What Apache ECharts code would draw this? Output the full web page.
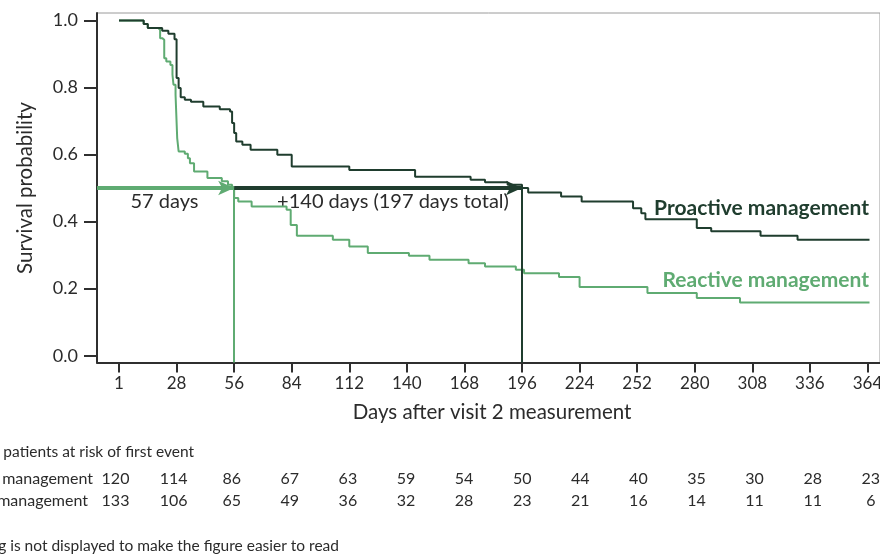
<!DOCTYPE html>
<html>
<head>
<meta charset="utf-8">
<title>Time to first event</title>
<script src="https://cdn.jsdelivr.net/npm/echarts@6.0.0/dist/echarts.min.js"></script>
<style>
  html, body { margin: 0; padding: 0; background: #fff; }
  #chart { width: 880px; height: 554px; }
</style>
</head>
<body>
<div id="chart"></div>
<script>
// Kaplan-Meier steps: day of the drop, survival after the drop
const proactiveDays = [0, 12, 14, 21, 24, 27, 28, 29, 30, 32, 35, 41, 49, 54, 55, 56, 57, 60, 64, 77, 84, 112, 144, 171, 178, 189, 196, 199, 215, 225, 250, 254, 256, 281, 288, 312, 330, 365]
const proactiveSurv = [1.0, 0.989, 0.977, 0.969, 0.96, 0.944, 0.828, 0.798, 0.771, 0.763, 0.757, 0.743, 0.735, 0.728, 0.694, 0.664, 0.639, 0.629, 0.614, 0.599, 0.564, 0.554, 0.534, 0.525, 0.517, 0.51, 0.5, 0.487, 0.475, 0.46, 0.44, 0.425, 0.407, 0.381, 0.371, 0.358, 0.346, 0.346]

const reactiveDays = [0, 12, 14, 19, 20, 21, 22, 23, 25, 26, 26.5, 27.5, 28.3, 29, 32, 33.5, 34.5, 36.5, 43, 50, 53, 55, 56, 58, 64.5, 81.5, 83.5, 86.5, 104, 112, 121, 141, 151, 170, 178, 193, 197, 214, 224, 257, 281, 302, 365]
const reactiveSurv = [1.0, 0.989, 0.977, 0.972, 0.947, 0.942, 0.887, 0.877, 0.867, 0.838, 0.808, 0.778, 0.649, 0.609, 0.602, 0.589, 0.574, 0.549, 0.53, 0.52, 0.51, 0.5, 0.47, 0.46, 0.445, 0.435, 0.39, 0.358, 0.346, 0.326, 0.306, 0.298, 0.286, 0.276, 0.266, 0.256, 0.246, 0.235, 0.205, 0.187, 0.172, 0.159, 0.159]

// median survival
const medianReactive = 56
const medianProactive = 196
const medianLevel = 0.5

// axes
const xTickDays = [0, 28, 56, 84, 112, 140, 168, 196, 224, 252, 280, 308, 336, 364]
const xTickLabels = ['1', '28', '56', '84', '112', '140', '168', '196', '224', '252', '280', '308', '336', '364']
const yTickValues = [0, 0.2, 0.4, 0.6, 0.8, 1.0]

// number at risk
const riskProactive = [120, 114, 86, 67, 63, 59, 54, 50, 44, 40, 35, 30, 28, 23]
const riskReactive = [133, 106, 65, 49, 36, 32, 28, 23, 21, 16, 14, 11, 11, 6]

const DARK = '#1f3d2e'
const LIGHT = '#5fab72'
const TEXT = '#2b2b2b'
const FONT = 'Lato'
const X_MIN = -10.7
const X_MAX = 370.1
const Y_MIN = -0.0203
const Y_MAX = 1.022

const chart = echarts.init(document.getElementById('chart'))

const toPoints = (xs, ys) => xs.map((x, i) => [x, ys[i]])

// risk table numbers
const tableTexts = []
const cellStyle = { fontFamily: FONT, fontSize: 16, fill: TEXT, textAlign: 'center', textVerticalAlign: 'middle' }
riskProactive.forEach((v, i) => {
  tableTexts.push({ type: 'text', x: 115.5 + 58.1 * i, y: 479, style: Object.assign({ text: String(v) }, cellStyle) })
})
riskReactive.forEach((v, i) => {
  tableTexts.push({ type: 'text', x: 115.5 + 58.1 * i, y: 501, style: Object.assign({ text: String(v) }, cellStyle) })
})

const label = (text, x, y, extra) => ({
  type: 'text', x: x, y: y,
  style: Object.assign({ text: text, fontFamily: FONT, fontSize: 16, fill: TEXT, textVerticalAlign: 'middle' }, extra),
})

const option = {
  animation: false,
  grid: {
    left: 97,
    top: 13,
    right: 0,
    height: 349.5,
    outerBoundsMode: 'none',
    containLabel: false,
    show: true,
    borderColor: '#9a9a9a',
    borderWidth: 1,
  },
  xAxis: {
    type: 'value',
    min: X_MIN,
    max: X_MAX,
    splitLine: { show: false },
    axisLine: { onZero: false, lineStyle: { color: '#2f2f2f', width: 2 } },
    axisTick: { customValues: xTickDays, length: 10, lineStyle: { color: '#2f2f2f', width: 2 } },
    axisLabel: {
      customValues: xTickDays,
      margin: 13,
      fontFamily: FONT,
      fontSize: 17,
      color: TEXT,
      hideOverlap: false,
      formatter: (v) => xTickLabels[xTickDays.indexOf(v)],
    },
  },
  yAxis: {
    type: 'value',
    min: Y_MIN,
    max: Y_MAX,
    splitLine: { show: false },
    axisLine: { onZero: false, lineStyle: { color: '#2f2f2f', width: 2 } },
    axisTick: { customValues: yTickValues, length: 13, lineStyle: { color: '#2f2f2f', width: 2 } },
    axisLabel: {
      customValues: yTickValues,
      margin: 19,
      fontFamily: FONT,
      fontSize: 18,
      color: TEXT,
      formatter: (v) => v.toFixed(1),
    },
  },
  series: [
    {
      name: 'Reactive management',
      type: 'line',
      step: 'end',
      symbol: 'none',
      data: toPoints(reactiveDays, reactiveSurv),
      lineStyle: { color: LIGHT, width: 2 },
      z: 2,
      markLine: {
        silent: true,
        symbol: ['none', 'none'],
        label: { show: false },
        lineStyle: { color: LIGHT, width: 2, type: 'solid' },
        data: [
          [{ coord: [medianReactive, medianLevel] }, { coord: [medianReactive, Y_MIN] }],
          [{ coord: [X_MIN, medianLevel], symbol: 'none' }, { coord: [medianReactive, medianLevel], symbol: 'arrow', symbolSize: [11, 16], lineStyle: { width: 4 } }],
        ],
      },
    },
    {
      name: 'Proactive management',
      type: 'line',
      step: 'end',
      symbol: 'none',
      data: toPoints(proactiveDays, proactiveSurv),
      lineStyle: { color: DARK, width: 2 },
      z: 3,
      markLine: {
        silent: true,
        symbol: ['none', 'none'],
        label: { show: false },
        lineStyle: { color: DARK, width: 2, type: 'solid' },
        data: [
          [{ coord: [medianProactive, medianLevel] }, { coord: [medianProactive, Y_MIN] }],
          [{ coord: [medianReactive, medianLevel], symbol: 'none' }, { coord: [medianProactive, medianLevel], symbol: 'arrow', symbolSize: [11, 16], lineStyle: { width: 4 } }],
        ],
      },
    },
  ],
  graphic: [
    Object.assign(label('Survival probability', 25, 188, { fontSize: 20.5, textAlign: 'center' }), { rotation: Math.PI / 2 }),
    label('Days after visit 2 measurement', 492, 412, { fontSize: 20.5, textAlign: 'center' }),
    label('57 days', 164.5, 202, { fontSize: 20, textAlign: 'center' }),
    label('+140 days (197 days total)', 393, 202, { fontSize: 20, textAlign: 'center' }),
    label('Proactive management', 869, 208, { fontSize: 21, fontWeight: 'bold', fill: DARK, textAlign: 'right' }),
    label('Reactive management', 869, 280, { fontSize: 21, fontWeight: 'bold', fill: LIGHT, textAlign: 'right' }),
    label('Number of patients at risk of first event', 194, 452, { fontSize: 15.5, textAlign: 'right' }),
    label('Proactive management', 93, 479, { textAlign: 'right' }),
    label('Reactive management', 88, 501, { textAlign: 'right' }),
    label('Censoring is not displayed to make the figure easier to read', 339, 546, { fontSize: 15.5, textAlign: 'right' }),
  ].concat(tableTexts),
}

chart.setOption(option)
</script>
</body>
</html>
